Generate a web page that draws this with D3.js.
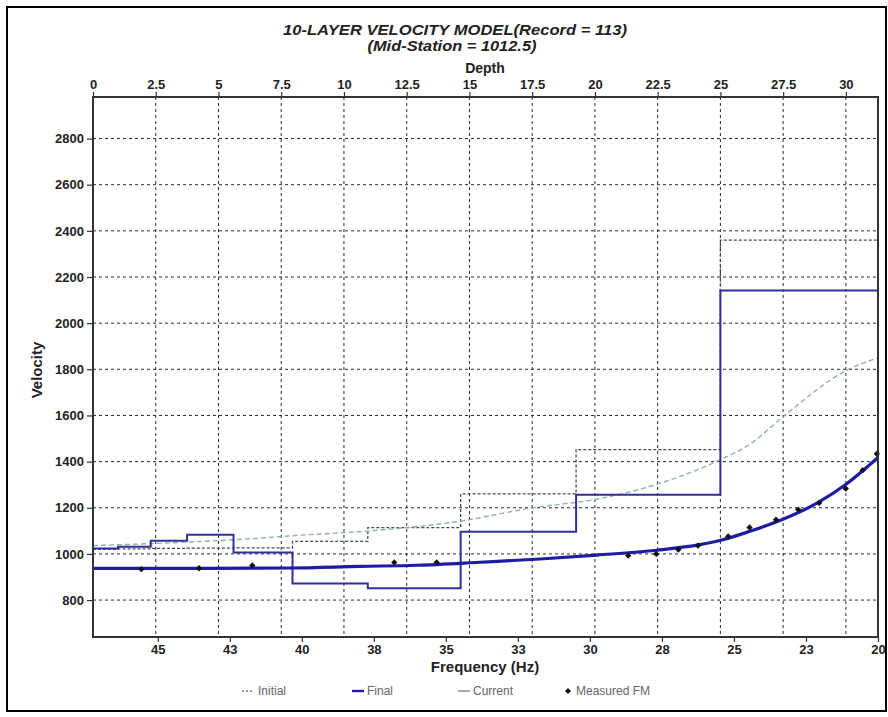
<!DOCTYPE html>
<html>
<head>
<meta charset="utf-8">
<script src="https://cdn.jsdelivr.net/npm/d3@7"></script>
<style>
  html, body { margin: 0; padding: 0; background: #fff; }
  svg { display: block; }
  text { font-family: "Liberation Sans Narrow", "Arial Narrow", "Liberation Sans", Arial, sans-serif; }
</style>
</head>
<body>
<svg id="chart" width="888" height="717"></svg>
<script>
// ---- Layer model (depth of layer top, velocity) ----
const layerTops       = [0, 1.0, 2.3, 3.75, 5.6, 7.95, 10.95, 14.65, 19.25, 25.0];
const initialVelocity = [1020, 1022, 1024, 1025, 1026, 1054, 1114, 1260, 1452, 2360];
const finalVelocity   = [1024, 1031, 1057, 1083, 1006, 872, 851, 1096, 1256, 2141];

// ---- Dispersion curves (frequency in Hz, phase velocity) ----
const initialCurveFreq = [47.25, 44.23, 41.38, 40.31, 37.74, 34.51, 32.08, 29.65, 27.67, 25.45, 24.45, 23.30, 21.08, 20.0];
const initialCurveVel  = [1036, 1050, 1069, 1079, 1099, 1142, 1198, 1240, 1302, 1410, 1475, 1594, 1796, 1850];

const finalCurveFreq = [47.25, 43.54, 40.41, 37.98, 36.0, 33.82, 31.73, 29.76, 27.67, 26.18, 25.49, 24.45, 23.30, 22.12, 21.11, 20.0];
const finalCurveVel  = [937, 937, 939, 946, 951, 964, 978, 995, 1016, 1040, 1058, 1098, 1150, 1220, 1302, 1418];

const measuredFreq = [45.57, 43.57, 41.72, 36.79, 35.32, 28.67, 27.70, 26.93, 26.25, 25.20, 24.46, 23.54, 22.77, 22.04, 21.12, 20.53, 20.04];
const measuredVel  = [934, 938, 950, 963, 963, 993, 1000, 1019, 1036, 1076, 1115, 1148, 1192, 1221, 1283, 1363, 1434];

// ---- Axis ticks ----
const depthTicks    = [0, 2.5, 5, 7.5, 10, 12.5, 15, 17.5, 20, 22.5, 25, 27.5, 30];
const velocityTicks = [800, 1000, 1200, 1400, 1600, 1800, 2000, 2200, 2400, 2600, 2800];
const freqTicks     = [45, 42.5, 40, 37.5, 35, 32.5, 30, 27.5, 25, 22.5, 20];

const legendItems = ["Initial", "Final", "Current", "Measured FM"];

// ---- Layout ----
const plot = { left: 93, right: 878, top: 97, bottom: 637 };
const svg = d3.select("#chart");

const xDepth = d3.scaleLinear().domain([0, 31.28]).range([plot.left, plot.right]);
const xFreq  = d3.scaleLinear().domain([47.25, 20]).range([plot.left, plot.right]);
const y      = d3.scaleLinear().domain([640, 2980]).range([plot.bottom, plot.top]);

// outer border
svg.append("rect")
  .attr("x", 7).attr("y", 7).attr("width", 879).attr("height", 704)
  .attr("fill", "none").attr("stroke", "#000").attr("stroke-width", 2);

// ---- Titles ----
svg.append("text")
  .attr("x", 455).attr("y", 35).attr("text-anchor", "middle")
  .attr("font-size", 15).attr("font-weight", "bold").attr("font-style", "italic")
  .attr("fill", "#222")
  .attr("textLength", 344).attr("lengthAdjust", "spacingAndGlyphs")
  .text("10-LAYER VELOCITY MODEL(Record = 113)");
svg.append("text")
  .attr("x", 452).attr("y", 51).attr("text-anchor", "middle")
  .attr("font-size", 15).attr("font-weight", "bold").attr("font-style", "italic")
  .attr("fill", "#222")
  .attr("textLength", 169).attr("lengthAdjust", "spacingAndGlyphs")
  .text("(Mid-Station = 1012.5)");

// ---- Grid ----
const grid = svg.append("g").attr("stroke", "#2a2a2a").attr("stroke-width", 1)
  .attr("stroke-dasharray", "3,3");
grid.selectAll("line.h").data(velocityTicks).join("line")
  .attr("x1", plot.left).attr("x2", plot.right)
  .attr("y1", d => y(d)).attr("y2", d => y(d));
grid.selectAll("line.v").data(depthTicks.filter(d => d > 0)).join("line")
  .attr("x1", d => xDepth(d)).attr("x2", d => xDepth(d))
  .attr("y1", plot.top).attr("y2", plot.bottom);

// ---- Layer step lines ----
function stepPoints(vels) {
  const pts = layerTops.map((d, i) => [d, vels[i]]);
  pts.push([xDepth.domain()[1], vels[vels.length - 1]]);
  return pts;
}
const stepLine = d3.line()
  .x(d => xDepth(d[0])).y(d => y(d[1]))
  .curve(d3.curveStepAfter);

svg.append("path")
  .attr("d", stepLine(stepPoints(initialVelocity)))
  .attr("fill", "none").attr("stroke", "#4a4a4a")
  .attr("stroke-width", 1.3).attr("stroke-dasharray", "3,2");

// initial-model dispersion curve
const curveLine = d3.line()
  .x(d => xFreq(d[0])).y(d => y(d[1]))
  .curve(d3.curveMonotoneX);
svg.append("path")
  .attr("d", curveLine(initialCurveFreq.map((f, i) => [f, initialCurveVel[i]])))
  .attr("fill", "none").attr("stroke", "#8fb3a2")
  .attr("stroke-width", 1.4).attr("stroke-dasharray", "5,3");

svg.append("path")
  .attr("d", stepLine(stepPoints(finalVelocity)))
  .attr("fill", "none").attr("stroke", "#2f2f9e").attr("stroke-width", 2);

// final-model dispersion curve
svg.append("path")
  .attr("d", curveLine(finalCurveFreq.map((f, i) => [f, finalCurveVel[i]])))
  .attr("fill", "none").attr("stroke", "#1c1ca6").attr("stroke-width", 3.2);

// measured points (small diamonds)
svg.append("g").selectAll("path").data(measuredFreq.map((f, i) => [f, measuredVel[i]]))
  .join("path")
  .attr("transform", d => `translate(${xFreq(d[0])},${y(d[1])}) rotate(45)`)
  .attr("d", d3.symbol(d3.symbolSquare, 20))
  .attr("fill", "#111");

// ---- Frame ----
svg.append("rect")
  .attr("x", plot.left).attr("y", plot.top)
  .attr("width", plot.right - plot.left).attr("height", plot.bottom - plot.top)
  .attr("fill", "none").attr("stroke", "#333").attr("stroke-width", 2);

// ---- Axes ----
function styleAxis(g, size) {
  g.select(".domain").remove();
  g.selectAll(".tick line").attr("stroke", "#333").attr("stroke-width", 1.2);
  g.selectAll(".tick text").attr("font-size", size).attr("font-weight", "bold")
    .attr("fill", "#222").attr("font-family", null);
}

const topAxis = svg.append("g")
  .attr("transform", `translate(0,${plot.top})`)
  .call(d3.axisTop(xDepth).tickValues(depthTicks).tickSize(5).tickPadding(3).tickFormat(d3.format("")));
styleAxis(topAxis, 13);

const leftAxis = svg.append("g")
  .attr("transform", `translate(${plot.left},0)`)
  .call(d3.axisLeft(y).tickValues(velocityTicks).tickSize(6).tickPadding(3).tickFormat(d3.format("")));
styleAxis(leftAxis, 13);

const bottomAxis = svg.append("g")
  .attr("transform", `translate(0,${plot.bottom})`)
  .call(d3.axisBottom(xFreq).tickValues(freqTicks).tickSize(5).tickPadding(3).tickFormat(d => d.toFixed(0)));
styleAxis(bottomAxis, 13);

// axis titles
svg.append("text")
  .attr("x", 485).attr("y", 73).attr("text-anchor", "middle")
  .attr("font-size", 14).attr("font-weight", "bold").attr("fill", "#222")
  .text("Depth");
svg.append("text")
  .attr("x", 485).attr("y", 672).attr("text-anchor", "middle")
  .attr("font-size", 15).attr("font-weight", "bold").attr("fill", "#222")
  .text("Frequency (Hz)");
svg.append("text")
  .attr("transform", "translate(42,370) rotate(-90)").attr("text-anchor", "middle")
  .attr("font-size", 15).attr("font-weight", "bold").attr("fill", "#222")
  .text("Velocity");

// ---- Legend ----
const legend = svg.append("g").attr("transform", "translate(242,695)");
const slot = 106;
legendItems.forEach((name, i) => {
  const g = legend.append("g").attr("transform", `translate(${i * slot},0)`);
  if (i === 0) {
    g.append("line").attr("x1", 0).attr("x2", 12).attr("y1", -4).attr("y2", -4)
      .attr("stroke", "#777").attr("stroke-width", 1.3).attr("stroke-dasharray", "2,2");
  } else if (i === 1) {
    g.append("line").attr("x1", 4).attr("x2", 16).attr("y1", -4).attr("y2", -4)
      .attr("stroke", "#1c1ca6").attr("stroke-width", 2.4);
  } else if (i === 2) {
    g.append("line").attr("x1", 4).attr("x2", 16).attr("y1", -4).attr("y2", -4)
      .attr("stroke", "#888").attr("stroke-width", 1.4);
  } else {
    g.append("path").attr("transform", "translate(8,-4) rotate(45)")
      .attr("d", d3.symbol(d3.symbolSquare, 18)).attr("fill", "#111");
  }
  g.append("text").attr("x", i === 0 ? 16 : (i === 3 ? 16 : 19)).attr("y", 0)
    .attr("font-size", 12).attr("fill", "#666").text(name);
});
</script>
</body>
</html>
